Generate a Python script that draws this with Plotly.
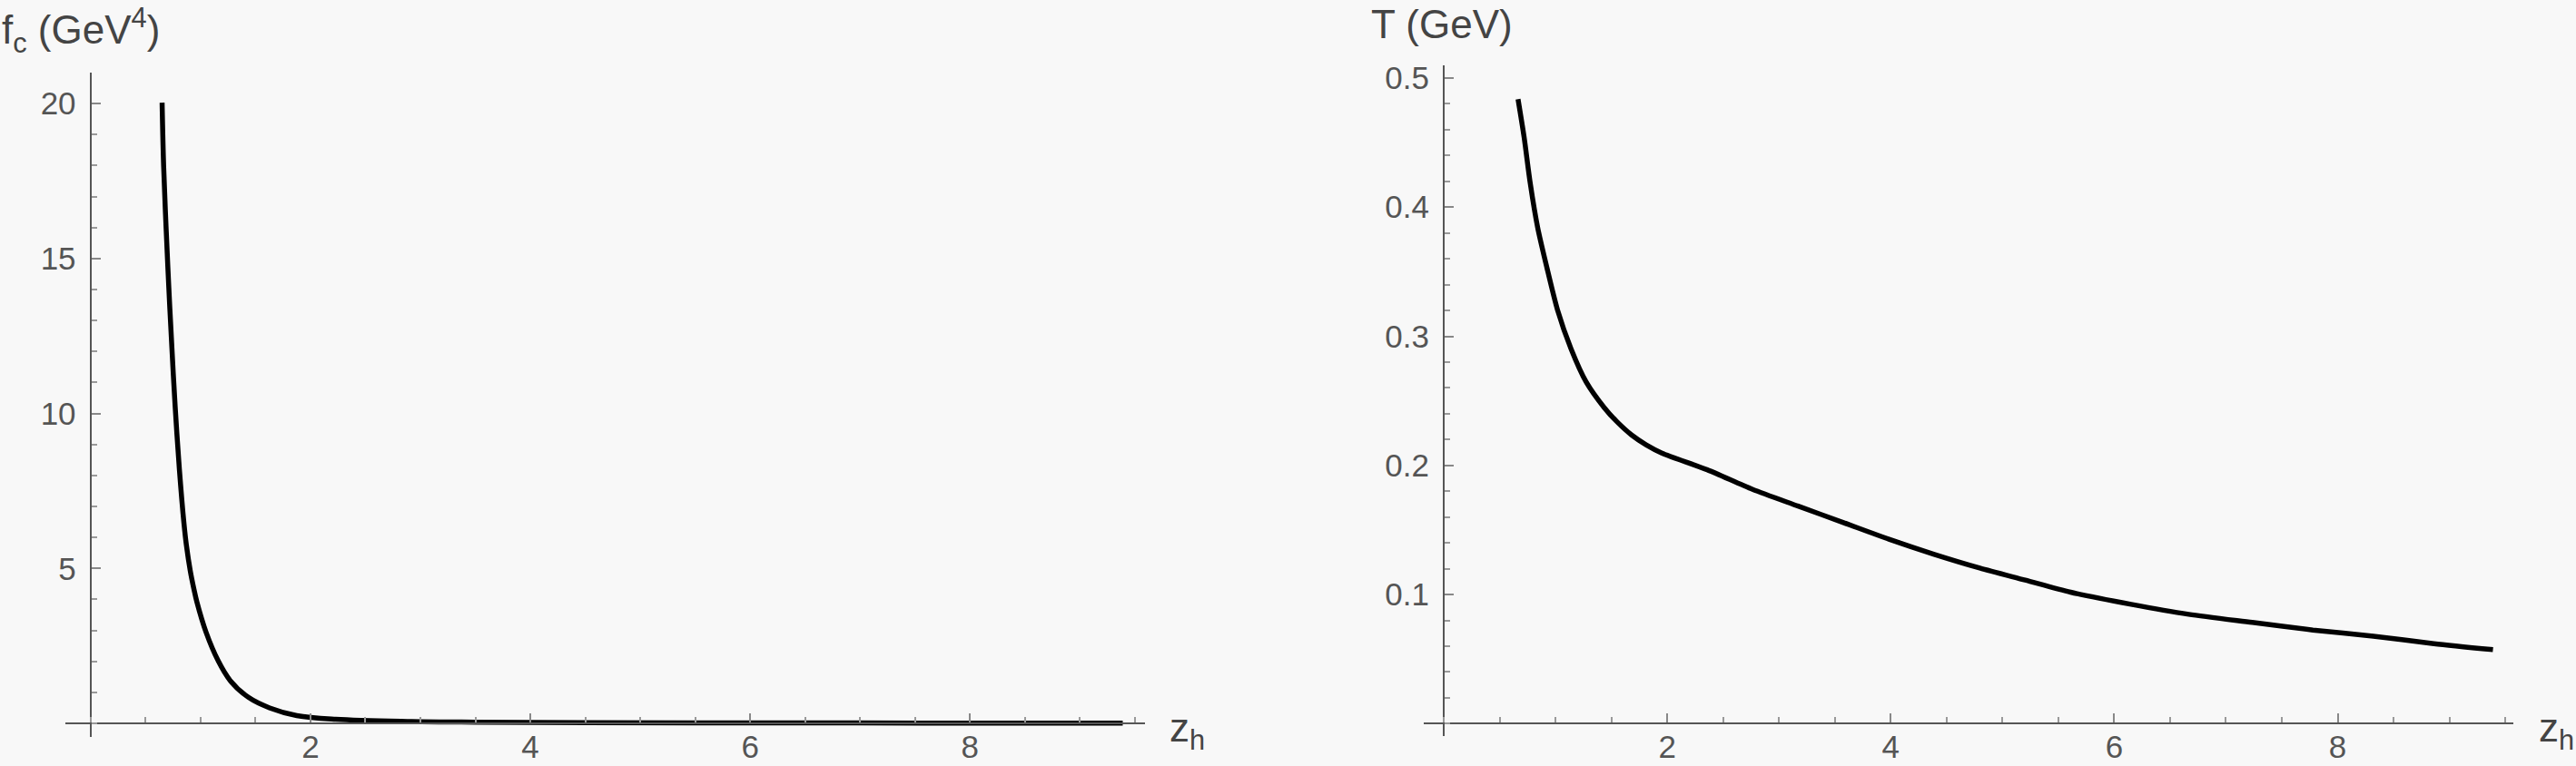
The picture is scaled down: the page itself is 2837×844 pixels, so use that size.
import plotly.graph_objects as go

# f_c(z_h) curve
zh_f = [0.650, 0.664, 0.686, 0.711, 0.739, 0.769, 0.807, 0.849, 0.871, 0.906, 0.939, 0.967,
        1.05, 1.16, 1.27, 1.435, 1.628, 1.876, 2.23, 2.92, 3.5, 4.5, 6.0, 8.0, 9.39]
fc = [20.03, 17.98, 16.02, 14.07, 12.12, 10.21, 8.21, 6.45, 5.75, 4.93, 4.34, 3.91,
      2.94, 2.02, 1.38, 0.84, 0.50, 0.25, 0.13, 0.06, 0.04, 0.025, 0.015, 0.01, 0.008]

# T(z_h) curve
zh_t = [0.664, 0.718, 0.772, 0.840, 0.921, 1.016, 1.138, 1.274, 1.436, 1.545,
        1.68, 1.81, 1.951, 2.358, 2.764, 3.171, 3.577, 3.984, 4.39, 4.797,
        5.203, 5.61, 6.152, 6.667, 7.236, 7.778, 8.32, 8.862, 9.39]
temp = [0.4836, 0.4543, 0.4192, 0.384, 0.3536, 0.3208, 0.2904, 0.2646, 0.2447, 0.2342,
        0.2236, 0.2160, 0.2096, 0.1966, 0.1814, 0.1685, 0.1557, 0.1428, 0.1311, 0.1205,
        0.1112, 0.1018, 0.0924, 0.0847, 0.0784, 0.0725, 0.0678, 0.062, 0.0573]

x_ticks = [2, 4, 6, 8]
fc_ticks = [5, 10, 15, 20]
t_ticks = [0.1, 0.2, 0.3, 0.4, 0.5]

W, H = 2837, 844
bg = "#f8f8f8"
font = "Liberation Sans"
axcol = "#555555"
tickfont = dict(family=font, size=35, color="#555555")

fig = go.Figure()
fig.add_trace(go.Scatter(x=zh_f, y=fc, mode="lines", xaxis="x", yaxis="y",
                         line=dict(color="black", width=5.5, shape="spline", smoothing=1.0)))
fig.add_trace(go.Scatter(x=zh_t, y=temp, mode="lines", xaxis="x2", yaxis="y2",
                         line=dict(color="black", width=5.5, shape="spline", smoothing=0.7)))


def xax(domain, pos, rng):
    return dict(domain=domain, anchor="free", position=pos, range=rng, automargin=False,
                showline=True, linecolor=axcol, linewidth=2, zeroline=False,
                showgrid=False, tickmode="array", tickvals=x_ticks,
                ticks="inside", ticklen=10, tickwidth=2, tickcolor="#888888",
                minor=dict(ticks="inside", ticklen=6, tickwidth=1.5, tickcolor="#999999",
                           tickmode="linear", tick0=0, dtick=0.5),
                tickfont=tickfont, ticklabelstandoff=-5)


def yax(domain, pos, rng, vals, mdt):
    return dict(domain=domain, anchor="free", position=pos, range=rng, automargin=False,
                showline=True, linecolor=axcol, linewidth=2, zeroline=False,
                showgrid=False, tickmode="array", tickvals=vals,
                ticks="inside", ticklen=10, tickwidth=2, tickcolor="#888888",
                minor=dict(ticks="inside", ticklen=6, tickwidth=1.5, tickcolor="#999999",
                           tickmode="linear", tick0=0, dtick=mdt),
                tickfont=tickfont, ticklabelstandoff=8)


fig.update_layout(
    width=W, height=H,
    paper_bgcolor=bg, plot_bgcolor=bg,
    margin=dict(l=0, r=0, t=0, b=0, autoexpand=False),
    showlegend=False,
    xaxis=xax([72 / W, 1260.7 / W], (H - 797) / H, [-0.23, 9.59]),
    yaxis=yax([(H - 811.7) / H, (H - 80) / H], 99.6 / W, [-0.43, 21.0], fc_ticks, 1),
    xaxis2=xax([1568 / W, 2767.7 / W], (H - 796.5) / H, [-0.18, 9.57]),
    yaxis2=yax([(H - 810.9) / H, (H - 71.7) / H], 1590 / W, [-0.0095, 0.510], t_ticks, 0.02),
)

lab = dict(family=font, size=44, color="#444444")
fig.add_annotation(x=0, y=1.0, xref="paper", yref="paper", xanchor="left", yanchor="top",
                   text="f<sub>c</sub> (GeV<sup>4</sup>)", showarrow=False, font=lab)
fig.add_annotation(x=1508 / W, y=1.0, xref="paper", yref="paper", xanchor="left", yanchor="top",
                   text="T (GeV)", showarrow=False, font=lab)
fig.add_annotation(x=1286 / W, y=(H - 805) / H, xref="paper", yref="paper", xanchor="left",
                   yanchor="middle", text="z<sub>h</sub>", showarrow=False, font=lab)
fig.add_annotation(x=1.0, y=(H - 805) / H, xref="paper", yref="paper", xanchor="right",
                   yanchor="middle", text="z<sub>h</sub>", showarrow=False, font=lab)

# drop the browser's default body margin so the figure fills the window exactly
fig.write_html("out.html", config={"displayModeBar": False},
               post_script="document.body.style.margin='0';document.body.style.overflow='hidden';")
